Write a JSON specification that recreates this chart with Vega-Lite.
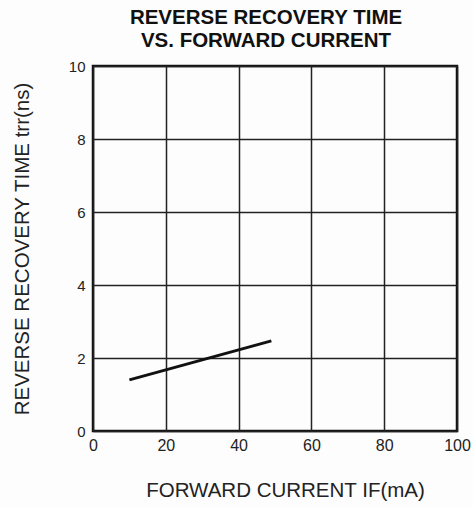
{
  "$schema": "https://vega.github.io/schema/vega-lite/v6.json",
  "width": 364,
  "height": 365,
  "autosize": {"type": "none"},
  "padding": {"left": 93, "top": 66, "right": 16, "bottom": 77},
  "background": "#fdfdfd",
  "title": {
    "text": ["REVERSE RECOVERY TIME", "VS. FORWARD CURRENT"],
    "font": "Liberation Sans",
    "fontSize": 20.5,
    "fontWeight": "bold",
    "color": "#111",
    "anchor": "middle",
    "dx": -9,
    "offset": 8,
    "lineHeight": 23
  },
  "config": {
    "view": {"stroke": "#111", "strokeWidth": 2.5},
    "axis": {
      "labelFont": "Liberation Sans",
      "titleFont": "Liberation Sans",
      "labelColor": "#222",
      "titleColor": "#222",
      "labelFontSize": 15,
      "titleFontSize": 20.5,
      "titleFontWeight": "normal",
      "domain": false,
      "ticks": false,
      "gridColor": "#222",
      "gridWidth": 1.5,
      "gridOpacity": 1
    }
  },
  "data": {
    "values": [
      {"current": 10, "trr": 1.4},
      {"current": 49, "trr": 2.47}
    ]
  },
  "mark": {"type": "line", "color": "#111", "strokeWidth": 3},
  "encoding": {
    "x": {
      "field": "current",
      "type": "quantitative",
      "scale": {"domain": [0, 100], "nice": false},
      "axis": {
        "values": [0, 20, 40, 60, 80, 100],
        "title": "FORWARD CURRENT IF(mA)",
        "labelFontSize": 16,
        "labelPadding": 6,
        "titlePadding": 27,
        "titleX": 192,
        "labelFlush": false
      }
    },
    "y": {
      "field": "trr",
      "type": "quantitative",
      "scale": {"domain": [0, 10], "nice": false},
      "axis": {
        "values": [0, 2, 4, 6, 8, 10],
        "title": "REVERSE RECOVERY TIME trr(ns)",
        "labelPadding": 8,
        "titlePadding": 36,
        "labelFlush": false
      }
    }
  }
}
